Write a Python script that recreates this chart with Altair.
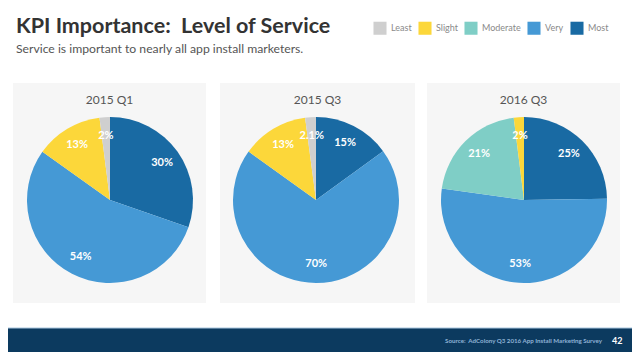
import altair as alt
import pandas as pd

# ---- data ----
categories = ["Most", "Very", "Moderate", "Slight", "Least"]
legend_order = ["Least", "Slight", "Moderate", "Very", "Most"]
colors = ["#cfcfcf", "#fcd73a", "#7fcec6", "#4599d5", "#196aa3"]
panel_titles = ["2015 Q1", "2015 Q3", "2016 Q3"]
values_2015_q1 = [30, 54, 0, 13, 2]
values_2015_q3 = [15, 70, 0, 13, 2.1]
values_2016_q3 = [25, 53, 21, 2, 0]
label_2015_q1 = ["30%", "54%", "", "13%", "2%"]
label_2015_q3 = ["15%", "70%", "", "13%", "2.1%"]
label_2016_q3 = ["25%", "53%", "21%", "2%", ""]

title_text = "KPI Importance:\u00a0 Level of Service"
subtitle_text = "Service is important to nearly all app install marketers."
source_text = "Source:\u00a0 AdColony Q3 2016 App Install Marketing Survey"
page_no = "42"

rows = []
for p, vals, labs in zip(panel_titles,
                         [values_2015_q1, values_2015_q3, values_2016_q3],
                         [label_2015_q1, label_2015_q3, label_2016_q3]):
    for i, (c, v, l) in enumerate(zip(categories, vals, labs)):
        if v > 0:
            rows.append({"panel": p, "level": c, "value": v, "label": l, "ord": i})
df = pd.DataFrame(rows)

FONT = "Lato"
W, H = 624, 344
one = alt.Data(values=[{}])

color_scale = alt.Scale(domain=legend_order, range=colors)
color = alt.Color("level:N", scale=color_scale,
                  legend=alt.Legend(title=None, orient="none", legendX=365, legendY=13,
                                    direction="horizontal", symbolType="square",
                                    symbolSize=170, symbolStrokeWidth=0,
                                    symbolOpacity=1, labelFontSize=9,
                                    labelColor="#8a8a8a", labelFont=FONT,
                                    labelOffset=4, columnPadding=6))

layers = []

# panel backgrounds
panels_x = [(5, 198), (212, 407), (419, 612)]
for x1, x2 in panels_x:
    layers.append(alt.Chart(one).mark_rect(color="#f6f6f6").encode(
        x=alt.value(x1), x2=alt.value(x2), y=alt.value(75), y2=alt.value(295)))

# footer
layers.append(alt.Chart(one).mark_rect(color="#0c3a5f").encode(
    x=alt.value(0), x2=alt.value(W), y=alt.value(320), y2=alt.value(H)))
layers.append(alt.Chart(one).mark_rule(color="#a9c6de", strokeWidth=1).encode(
    x=alt.value(0), x2=alt.value(W), y=alt.value(320)))

centers = [(102, 192), (308, 192), (516, 192)]
for i, (p, (cx, cy)) in enumerate(zip(panel_titles, centers)):
    base = alt.Chart(df).transform_filter(alt.datum.panel == p)
    arc = base.mark_arc(outerRadius=83, stroke=None).encode(
        theta=alt.Theta("value:Q", stack="normalize"),
        color=color if i == 0 else alt.Color("level:N", scale=color_scale, legend=None),
        order=alt.Order("ord:Q"),
        x=alt.value(cx), y=alt.value(cy))
    txt = base.mark_text(radius=64, color="white", font=FONT, fontWeight="bold",
                         fontSize=11).encode(
        theta=alt.Theta("value:Q", stack="normalize"),
        order=alt.Order("ord:Q"),
        text="label:N",
        x=alt.value(cx), y=alt.value(cy))
    ttl = alt.Chart(one).mark_text(text=p, font=FONT, fontSize=12, color="#555555",
                                   align="center", baseline="alphabetic").encode(
        x=alt.value((panels_x[i][0] + panels_x[i][1]) / 2), y=alt.value(96))
    layers += [arc, txt, ttl]

# header texts
layers.append(alt.Chart(one).mark_text(text=title_text, font=FONT, fontSize=21.5,
                                       fontWeight="bold", color="#333333",
                                       align="left", baseline="alphabetic").encode(
    x=alt.value(8), y=alt.value(25)))
layers.append(alt.Chart(one).mark_text(text=subtitle_text, font=FONT, fontSize=12.2,
                                       color="#555555", align="left",
                                       baseline="alphabetic").encode(
    x=alt.value(8), y=alt.value(45)))
# footer texts
layers.append(alt.Chart(one).mark_text(text=source_text, font=FONT, fontSize=6.2,
                                       fontWeight="bold", color="#8fb3d6", align="right",
                                       baseline="middle").encode(
    x=alt.value(594), y=alt.value(333)))
layers.append(alt.Chart(one).mark_text(text=page_no, font=FONT, fontSize=9,
                                       fontWeight="bold", color="white", align="left",
                                       baseline="middle").encode(
    x=alt.value(604), y=alt.value(333)))

chart = alt.layer(*layers).properties(
    width=W, height=H, autosize=alt.AutoSizeParams(type="none"), padding=0,
    background="white"
).configure_view(stroke=None)

chart.save("out.html", embed_options={"renderer": "svg", "actions": False})
